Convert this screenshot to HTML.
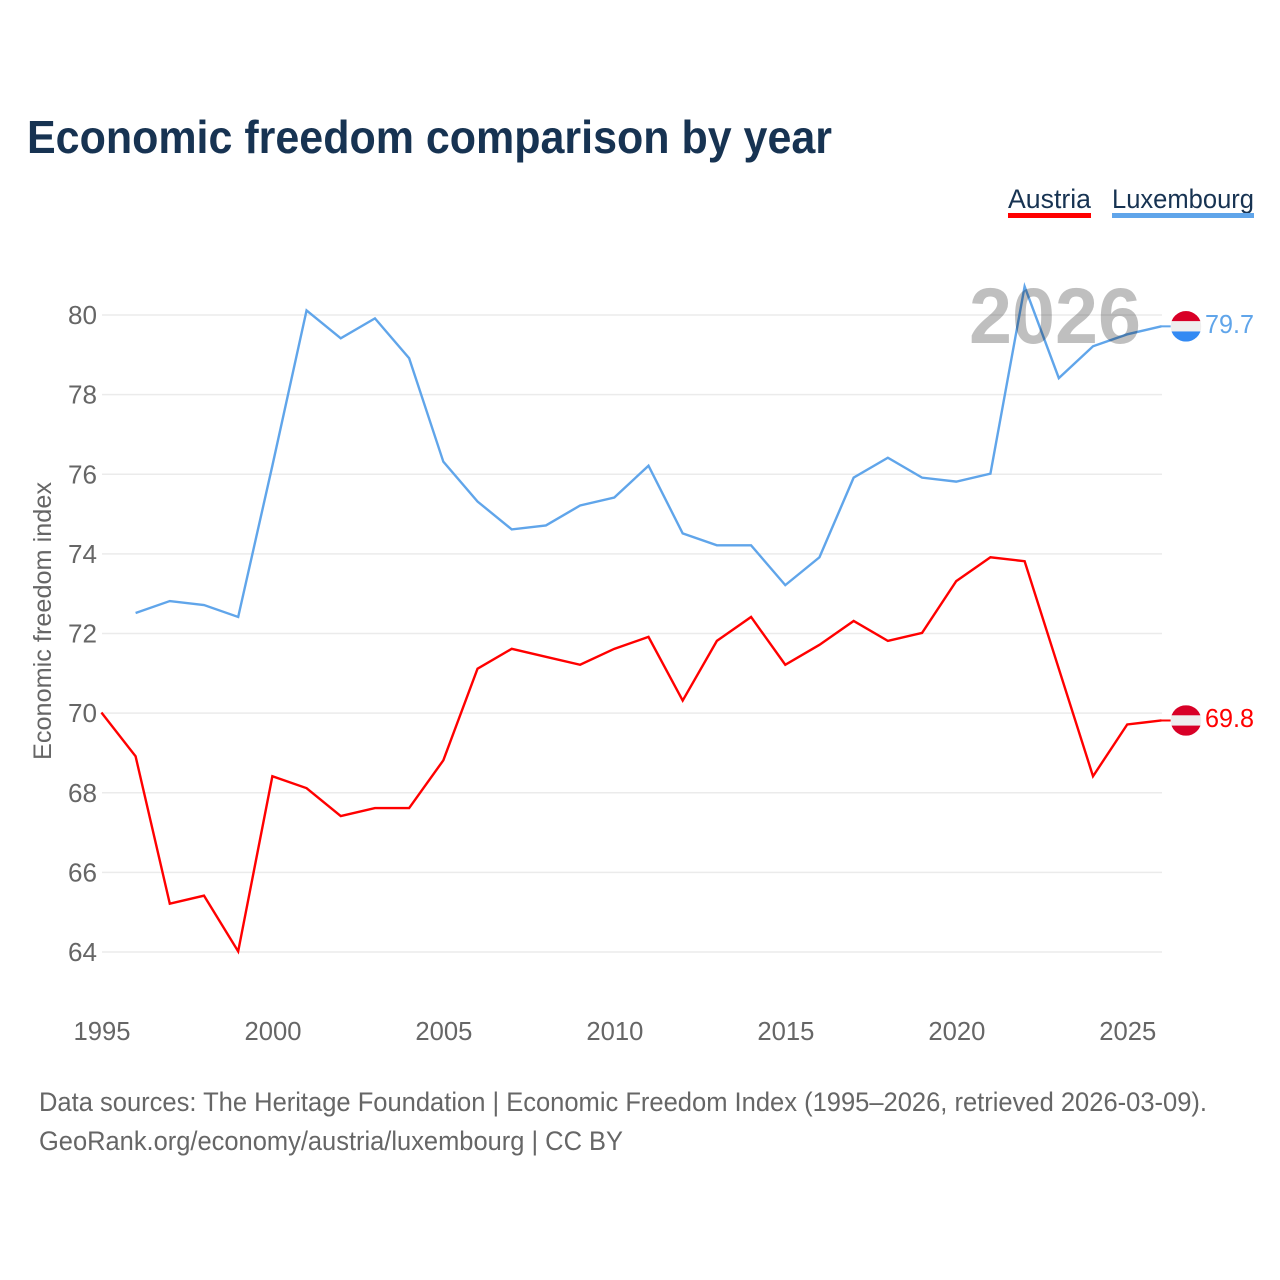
<!DOCTYPE html>
<html>
<head>
<meta charset="utf-8">
<style>
html,body{margin:0;padding:0;background:#fff;width:1280px;height:1280px;overflow:hidden}
svg{display:block;font-family:"Liberation Sans",sans-serif}
</style>
</head>
<body>
<svg id="chart" width="1280" height="1280" viewBox="0 0 1280 1280" xmlns="http://www.w3.org/2000/svg">
<rect width="1280" height="1280" fill="#fff"/>
<text x="27" y="153" font-size="46" font-weight="700" fill="#173352" textLength="805" lengthAdjust="spacingAndGlyphs">Economic freedom comparison by year</text>
<text x="1008" y="208" font-size="27" fill="#173352" textLength="83" lengthAdjust="spacingAndGlyphs">Austria</text>
<rect x="1008" y="213" width="83" height="5" fill="#ff0000"/>
<text x="1112" y="208" font-size="27" fill="#173352" textLength="142" lengthAdjust="spacingAndGlyphs">Luxembourg</text>
<rect x="1112" y="213" width="142" height="5" fill="#60a5ea"/>
<g id="grid"></g>
<g id="yticks"></g>
<g id="xticks"></g>
<text transform="translate(51,621) rotate(-90)" text-anchor="middle" font-size="25" fill="#666" textLength="278" lengthAdjust="spacingAndGlyphs">Economic freedom index</text>
<g id="series" transform="translate(-0.6,-0.6)"></g>
<text x="969" y="343" font-size="79" font-weight="700" fill="#000" fill-opacity="0.25" textLength="172" lengthAdjust="spacingAndGlyphs">2026</text>
<g id="ends" transform="translate(0,-0.6)"></g>
<text x="39" y="1111" font-size="27" fill="#666" textLength="1168" lengthAdjust="spacingAndGlyphs">Data sources: The Heritage Foundation | Economic Freedom Index (1995–2026, retrieved 2026-03-09).</text>
<text x="39" y="1150" font-size="27" fill="#666" textLength="584" lengthAdjust="spacingAndGlyphs">GeoRank.org/economy/austria/luxembourg | CC BY</text>
</svg>
<script>
const years = [1995,1996,1997,1998,1999,2000,2001,2002,2003,2004,2005,2006,2007,2008,2009,2010,2011,2012,2013,2014,2015,2016,2017,2018,2019,2020,2021,2022,2023,2024,2025,2026];
const austria = [70,68.9,65.2,65.4,64,68.4,68.1,67.4,67.6,67.6,68.8,71.1,71.6,71.4,71.2,71.6,71.9,70.3,71.8,72.4,71.2,71.7,72.3,71.8,72,73.3,73.9,73.8,71.1,68.4,69.7,69.8];
const luxembourg = [null,72.5,72.8,72.7,72.4,76.2,80.1,79.4,79.9,78.9,76.3,75.3,74.6,74.7,75.2,75.4,76.2,74.5,74.2,74.2,73.2,73.9,75.9,76.4,75.9,75.8,76,80.7,78.4,79.2,79.5,79.7];
const yTickValues = [64,66,68,70,72,74,76,78,80];
const xTickValues = [1995,2000,2005,2010,2015,2020,2025];

const NS = 'http://www.w3.org/2000/svg';
const xScale = function (v) { return 102 + (v - 1995) * (1162 - 102) / 31; };
const yScale = function (v) { return 952 - (v - 64) * (952 - 315) / 16; };
function make(parent, tag, attrs, text) {
  const el = document.createElementNS(NS, tag);
  Object.keys(attrs).forEach(function (k) { el.setAttribute(k, attrs[k]); });
  if (text !== undefined) el.textContent = text;
  parent.appendChild(el);
  return el;
}
const grid = document.getElementById('grid');
const yticks = document.getElementById('yticks');
const xticks = document.getElementById('xticks');
const seriesG = document.getElementById('series');
const ends = document.getElementById('ends');

yTickValues.forEach(function (t) {
  const line = make(grid, 'line', {x1: 102, x2: 1162, y1: yScale(t), y2: yScale(t), stroke: '#ebebeb', 'stroke-width': 1.6});
  
  
  const label = make(yticks, 'text', {x: 97, y: yScale(t) + 9, 'text-anchor': 'end', 'font-size': 26, fill: '#666', textLength: 29, lengthAdjust: 'spacingAndGlyphs'}, String(t));
  
  
});
xTickValues.forEach(function (t) {
  const label = make(xticks, 'text', {x: xScale(t), y: 1040, 'text-anchor': 'middle', 'font-size': 26, fill: '#666', textLength: 57, lengthAdjust: 'spacingAndGlyphs'}, String(t));
  
  
});

function drawSeries(values, color, name) {
  const pts = [];
  values.forEach(function (v, i) {
    if (v !== null) pts.push(xScale(years[i]) + ',' + yScale(v));
  });
  const line = make(seriesG, 'polyline', {points: pts.join(' '), fill: 'none', stroke: color, 'stroke-width': 2.4, 'stroke-linejoin': 'miter'});
  
  
}
drawSeries(austria, '#ff0000', 'austria');
drawSeries(luxembourg, '#60a5ea', 'luxembourg');

function drawEnd(values, color, name, bands) {
  const last = values[values.length - 1];
  const y = yScale(last);
  const cx = 1186;
  const r = 15.3;
  const conn = make(ends, 'line', {x1: 1161, x2: cx - r, y1: y, y2: y, stroke: color, 'stroke-width': 2});
  
  
  const flag = make(ends, 'g', {});
  
  
  const clipId = 'clip-' + name;
  const clip = make(flag, 'clipPath', {id: clipId});
  make(clip, 'circle', {cx: cx, cy: y, r: r});
  bands.forEach(function (c, i) {
    make(flag, 'rect', {x: cx - r, y: y - r + i * (2 * r / 3), width: 2 * r, height: 2 * r / 3, fill: c, 'clip-path': 'url(#' + clipId + ')'});
  });
  const label = make(ends, 'text', {x: 1205, y: y + 6.5, 'font-size': 26, fill: color, textLength: 49, lengthAdjust: 'spacingAndGlyphs'}, last.toFixed(1));
  
  
}
drawEnd(austria, '#ff0000', 'austria', ['#d80027', '#eeeeee', '#d80027']);
drawEnd(luxembourg, '#60a5ea', 'luxembourg', ['#d80027', '#eeeeee', '#338af3']);
</script>
</body>
</html>
